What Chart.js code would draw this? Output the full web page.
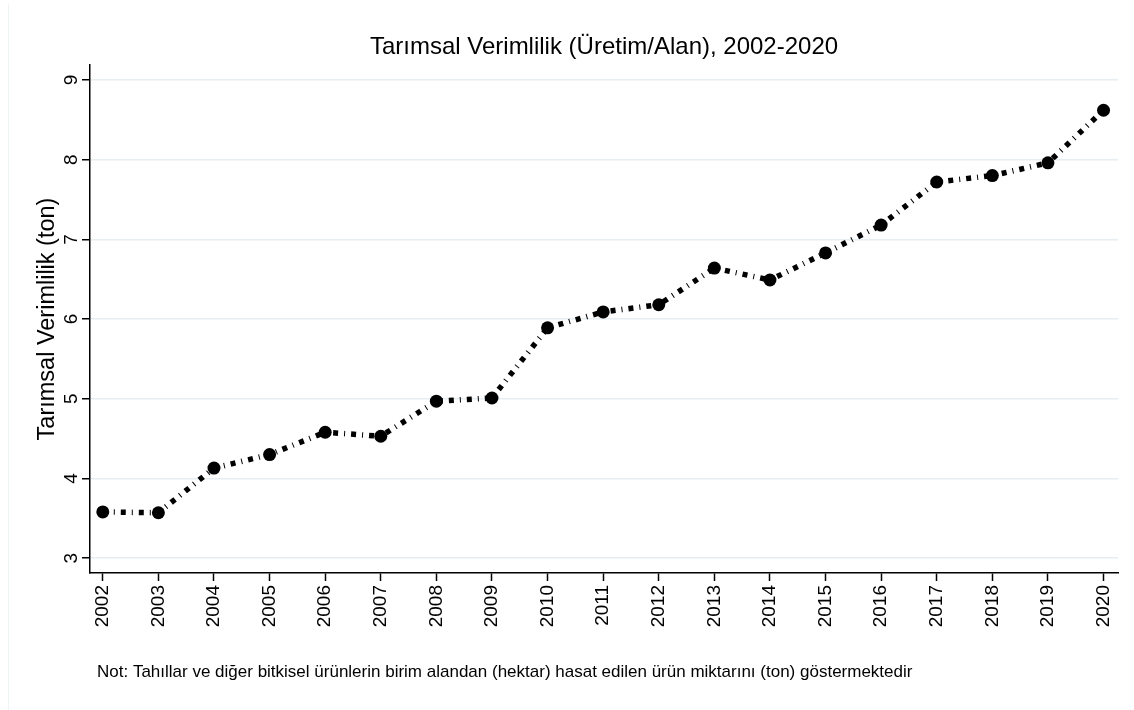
<!DOCTYPE html>
<html>
<head>
<meta charset="utf-8">
<script src="https://cdn.jsdelivr.net/npm/chart.js@4"></script>
<style>
  html, body { margin: 0; padding: 0; background: #fff; }
  #wrap { width: 1134px; height: 710px; position: relative; }
</style>
</head>
<body>
<div id="wrap"><canvas id="verim-chart"></canvas></div>
<script>
const ctx = document.getElementById('verim-chart').getContext('2d');
Chart.defaults.font.family = '"Liberation Sans", Arial, sans-serif';
Chart.defaults.color = '#000';

let yearArray = [2002, 2003, 2004, 2005, 2006, 2007, 2008, 2009, 2010, 2011,
                 2012, 2013, 2014, 2015, 2016, 2017, 2018, 2019, 2020];
let verimArray = [3.58, 3.57, 4.13, 4.30, 4.58, 4.53, 4.97, 5.01, 5.89, 6.09,
                  6.18, 6.64, 6.49, 6.83, 7.18, 7.72, 7.80, 7.96, 8.62];
let yTickArray = [3, 4, 5, 6, 7, 8, 9];

const chartTitle = 'Tarımsal Verimlilik (Üretim/Alan), 2002-2020';
const noteText = 'Not: Tahıllar ve diğer bitkisel ürünlerin birim alandan (hektar) hasat edilen ürün miktarını (ton) göstermektedir';

// title over the plot area and note at the bottom left, Stata style
const textPlugin = {
    id: 'texts',
    afterDraw(chart) {
        const c = chart.ctx;
        const area = chart.chartArea;
        c.save();
        c.strokeStyle = '#eef3f5';
        c.lineWidth = 1;
        c.beginPath();
        c.moveTo(8.5, 4);
        c.lineTo(8.5, 710);
        c.stroke();
        c.fillStyle = '#000';
        c.font = '24px "Liberation Sans", Arial, sans-serif';
        c.textAlign = 'center';
        c.textBaseline = 'middle';
        c.fillText(chartTitle, (area.left + area.right) / 2, 47);
        c.font = '17px "Liberation Sans", Arial, sans-serif';
        c.textAlign = 'left';
        c.fillText(noteText, 97, 672);
        c.restore();
    }
};

let verimChart = new Chart(ctx, {
    type: 'line',
    data: {
        datasets: [{
            label: 'Tarımsal Verimlilik',
            data: yearArray.map((y, i) => ({x: y, y: verimArray[i]})),
            borderColor: '#000',
            borderWidth: 5.5,
            borderDash: [5, 6, 1, 6],
            borderCapStyle: 'butt',
            pointRadius: 6.5,
            pointBackgroundColor: '#000',
            pointBorderWidth: 0,
            tension: 0
        }]
    },
    plugins: [textPlugin],
    options: {
        responsive: true,
        maintainAspectRatio: false,
        animation: false,
        layout: {
            padding: {top: 65, right: 16, left: 0, bottom: 0}
        },
        scales: {
            x: {
                type: 'linear',
                min: 2001.77,
                max: 2020.26,
                afterBuildTicks: (scale) => {
                    scale.ticks = yearArray.map(v => ({value: v}));
                },
                afterFit: (scale) => { scale.height = 137; },
                ticks: {
                    font: {size: 19},
                    minRotation: 90,
                    maxRotation: 90,
                    padding: 4,
                    autoSkip: false,
                    callback: (v) => String(v)
                },
                grid: {
                    drawOnChartArea: false,
                    drawTicks: true,
                    tickLength: 8,
                    tickColor: '#000',
                    tickWidth: 1.5
                },
                border: {display: true, color: '#000', width: 1.5}
            },
            y: {
                min: 2.814,
                max: 9.188,
                afterBuildTicks: (scale) => {
                    scale.ticks = yTickArray.map(v => ({value: v}));
                },
                afterFit: (scale) => { scale.width = 90; },
                ticks: {
                    font: {size: 19},
                    minRotation: 90,
                    maxRotation: 90,
                    crossAlign: 'center',
                    padding: 5
                },
                grid: {
                    color: '#e6eef1',
                    lineWidth: 1.5,
                    tickLength: 8,
                    tickColor: '#000',
                    tickWidth: 1.5
                },
                border: {display: true, color: '#000', width: 1.5},
                title: {
                    display: true,
                    text: 'Tarımsal Verimlilik (ton)',
                    font: {size: 23.5},
                    padding: {top: 33, bottom: 0}
                }
            }
        },
        plugins: {
            legend: {display: false},
            tooltip: {enabled: false}
        }
    }
});
</script>
</body>
</html>
